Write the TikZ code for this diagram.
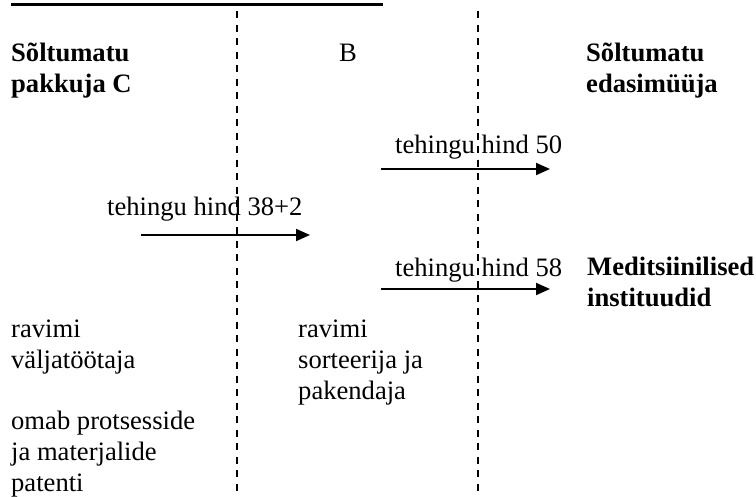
\documentclass[tikz,border=0pt]{standalone}
\usepackage{fontspec}
\setmainfont{Liberation Serif}
\usetikzlibrary{arrows.meta}
\begin{document}
\begin{tikzpicture}[x=1pt,y=-1pt,
  txt/.style={anchor=base west,inner sep=0pt,align=left,
    font=\fontsize{26.6}{30.8}\selectfont},
  bold/.style={txt,font=\fontsize{26.6}{30.8}\selectfont\bfseries},
  divider/.style={line width=1.6pt,dash pattern=on 7pt off 6.5pt},
  flow/.style={line width=2pt,-{Triangle[length=14pt,width=12pt]}}]
\useasboundingbox (0,0) rectangle (756,496);
% heading rule
\draw[line width=3.3pt] (11,4.3) -- (383,4.3);
% column dividers
\draw[divider] (237,11) -- (237,496);
\draw[divider] (478,11) -- (478,496);
% column headings (multi-line nodes sit on the baseline of their last line)
\node[bold] (c) at (11,92) {Sõltumatu\\pakkuja C};
\node[txt] (b) at (339,61) {B};
\node[bold] (r) at (586,92) {Sõltumatu\\edasimüüja};
\node[bold] (m) at (587,306) {Meditsiinilised\\instituudid};
% price flows
\coordinate (a1s) at (381,169);
\coordinate (a1e) at (550,169);
\coordinate (a2s) at (141,235);
\coordinate (a2e) at (310,235);
\coordinate (a3s) at (381,289);
\coordinate (a3e) at (550,289);
\draw[flow] (a1s) -- (a1e);
\draw[flow] (a2s) -- (a2e);
\draw[flow] (a3s) -- (a3e);
\node[txt] (p50) at (395,153) {tehingu hind 50};
\node[txt] (p40) at (107,215) {tehingu hind 38+2};
\node[txt] (p58) at (395,276) {tehingu hind 58};
% roles
\node[txt] (dev) at (11,368) {ravimi\\väljatöötaja};
\node[txt] (pat) at (11,491) {omab protsesside\\ja materjalide\\patenti};
\node[txt] (pack) at (298,399) {ravimi\\sorteerija ja\\pakendaja};
\end{tikzpicture}
\end{document}
